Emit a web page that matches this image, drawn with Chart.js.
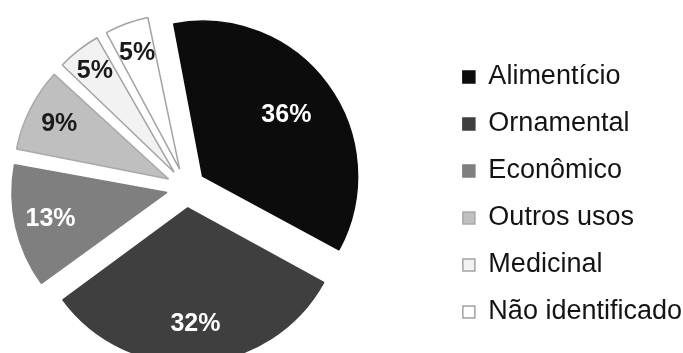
<!DOCTYPE html>
<html>
<head>
<meta charset="utf-8">
<script src="https://cdn.jsdelivr.net/npm/chart.js@4.4.1/dist/chart.umd.min.js"></script>
<style>
  html, body { margin: 0; padding: 0; background: #fff; }
  #wrap { width: 683px; height: 353px; }
</style>
</head>
<body>
<div id="wrap"><canvas id="myChart" width="683" height="353"></canvas></div>
<script>
const usos = ['Alimentício', 'Ornamental', 'Econômico', 'Outros usos', 'Medicinal', 'Não identificado'];
const percentuais = [36, 32, 13, 9, 5, 5];
const cores = ['#0c0c0c', '#3f3f3f', '#7f7f7f', '#bfbfbf', '#f2f2f2', '#ffffff'];
const bordas = ['#0c0c0c', '#3f3f3f', '#7f7f7f', '#a9a9a9', '#a3a3a3', '#a3a3a3'];
const corTexto = ['#ffffff', '#ffffff', '#ffffff', '#1a1a1a', '#1a1a1a', '#1a1a1a'];

const RAIO = 155;
const EXPLODE = 80; // chart.js moves each slice by offset / 4
const fonte = "'Liberation Sans', Arial, sans-serif";

// empty layout box, only reserves room next to the pie
function spacer(position, size) {
    return {
        position: position,
        weight: 0,
        fullSize: false,
        options: {},
        top: 0, left: 0, right: 0, bottom: 0, width: 0, height: 0,
        isHorizontal() {
            return this.position === 'top' || this.position === 'bottom';
        },
        update(maxWidth, maxHeight) {
            if (this.isHorizontal()) {
                this.width = maxWidth;
                this.height = size;
            } else {
                this.width = size;
                this.height = maxHeight;
            }
        },
        draw() {}
    };
}

const espacos = {
    id: 'espacos',
    beforeInit(chart) {
        Chart.layouts.addBox(chart, spacer('right', 70));
        Chart.layouts.addBox(chart, spacer('bottom', 13));
    }
};

// chart.js makes thin exploded slices a bit bigger, keep them all the same radius
const raioFixo = {
    id: 'raioFixo',
    beforeDatasetsDraw(chart) {
        chart.getDatasetMeta(0).data.forEach(arc => {
            const fix = 1 - Math.sin(Math.min(Math.PI, arc.circumference));
            arc.outerRadius = RAIO - arc.options.offset / 4 * fix;
        });
    }
};

// percentage inside each slice
const rotulos = {
    id: 'rotulos',
    afterDatasetsDraw(chart) {
        const ctx = chart.ctx;
        const dist = [0.67, 0.75, 0.77, 0.79, 0.83, 0.8];
        chart.getDatasetMeta(0).data.forEach((arc, i) => {
            const meio = (arc.startAngle + arc.endAngle) / 2;
            const r = arc.options.offset / 4 + RAIO * dist[i];
            ctx.save();
            ctx.font = 'bold 25px ' + fonte;
            ctx.fillStyle = corTexto[i];
            ctx.textAlign = 'center';
            ctx.textBaseline = 'middle';
            ctx.fillText(percentuais[i] + '%', arc.x + Math.cos(meio) * r, arc.y + Math.sin(meio) * r);
            ctx.restore();
        });
    }
};

var ctx = document.getElementById('myChart').getContext('2d');

var myChart = new Chart(ctx, {
    type: 'pie',
    data: {
        labels: usos,
        datasets: [{
            data: percentuais,
            backgroundColor: cores,
            borderColor: bordas,
            borderWidth: 1.5,
            offset: EXPLODE,
            hoverOffset: 0,
            radius: RAIO
        }]
    },
    options: {
        responsive: false,
        animation: false,
        devicePixelRatio: 1,
        rotation: -11,
        layout: {
            // the legend keeps 10px blank on its right, let it run past the edge
            padding: { top: 36, right: -9, bottom: 0, left: 0 }
        },
        plugins: {
            legend: {
                position: 'right',
                maxWidth: 320,
                labels: {
                    boxWidth: 12,
                    boxHeight: 12,
                    padding: 20,
                    color: '#141414',
                    font: { family: fonte, size: 27 }
                }
            },
            tooltip: { enabled: false }
        }
    },
    plugins: [espacos, raioFixo, rotulos]
});
</script>
</body>
</html>
